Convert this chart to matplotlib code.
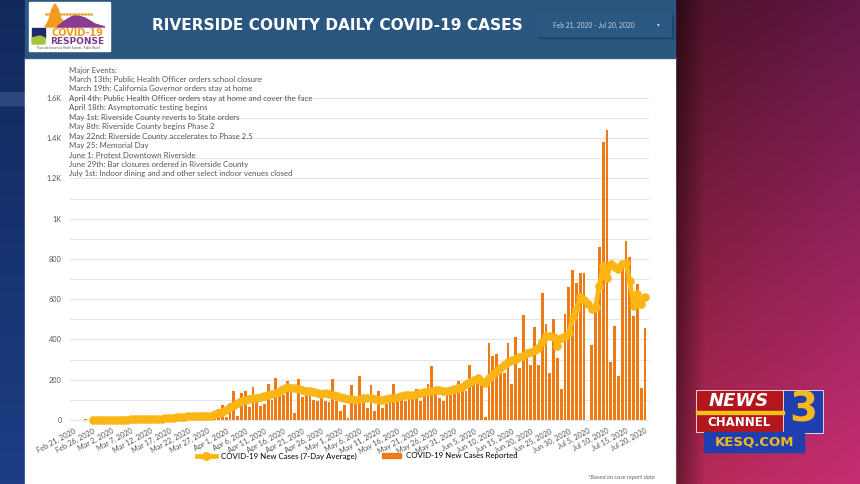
import numpy as np
import matplotlib.pyplot as plt
from matplotlib.patches import Rectangle, Polygon
from matplotlib.lines import Line2D

# daily new cases, Feb 21 .. Jul 20 2020 (151 days)
cases = [2, 0, 1, 3, 2, 1, 0, 2, 1, 3,
         1, 0, 2, 1, 0, 2, 3, 1, 4, 3,
         6, 5, 8, 7, 10, 12, 9, 15, 18, 12,
         22, 26, 20, 30, 24, 18, 30, 30, 55, 75,
         17, 85, 145, 22, 133, 142, 67, 162, 117, 70,
         80, 180, 97, 208, 117, 125, 192, 175, 33, 205,
         112, 133, 122, 97, 92, 150, 92, 87, 205, 92,
         45, 75, 12, 175, 88, 217, 92, 58, 172, 47,
         145, 58, 80, 92, 178, 100, 103, 92, 103, 108,
         153, 92, 133, 178, 270, 133, 108, 92, 125, 125,
         142, 195, 167, 142, 275, 183, 225, 185, 17, 383,
         320, 330, 233, 233, 383, 180, 410, 258, 520, 313,
         275, 463, 275, 633, 475, 235, 500, 310, 155, 525,
         660, 745, 680, 730, 730, 0, 375, 535, 860, 1383,
         1440, 290, 467, 220, 783, 890, 810, 517, 675, 160,
         458]

# 7-day average as drawn (starts Feb 26)
avg = [np.nan] * 5 + [
    1, 1, 1, 2, 2,
    2, 2, 2, 2, 2, 3, 3, 3, 3, 3,
    4, 5, 6, 7, 8, 10, 12, 14, 15, 16,
    18, 20, 22, 22, 20, 18, 22, 28, 35, 42,
    52, 65, 72, 85, 95, 100, 105, 108, 110, 112,
    118, 122, 128, 135, 145, 155, 162, 158, 160, 155,
    150, 145, 142, 138, 132, 130, 135, 130, 125, 120,
    115, 108, 105, 102, 100, 105, 108, 110, 108, 102,
    100, 100, 105, 108, 110, 112, 118, 122, 125, 125,
    128, 132, 138, 142, 145, 150, 150, 145, 142, 150,
    152, 158, 165, 180, 190, 200, 208, 195, 185, 210,
    228, 245, 258, 272, 288, 300, 305, 312, 320, 333,
    340, 348, 360, 390, 417, 415, 410, 370, 405, 415,
    430, 510, 550, 610, 595, 575, 550, 560, 667, 767,
    707, 775, 760, 750, 775, 780, 690, 567, 625, 575,
    610]

months = ['Feb', 'Mar', 'Apr', 'May', 'Jun', 'Jul']
month_days = [29, 31, 30, 31, 30, 31]

events = ['Major Events:',
          'March 13th: Public Health Officer orders school closure',
          'March 19th: California Governor orders stay at home',
          'April 4th: Public Health Officer orders stay at home and cover the face',
          'April 18th: Asymptomatic testing begins',
          'May 1st: Riverside County reverts to State orders',
          'May 8th: Riverside County begins Phase 2',
          'May 22nd: Riverside County accelerates to Phase 2.5',
          'May 25: Memorial Day',
          'June 1: Protest Downtown Riverside',
          'June 29th: Bar closures ordered in Riverside County',
          'July 1st: Indoor dining and and other select indoor venues closed']

# date labels
labels = []
m, d = 0, 21
for i in range(len(cases)):
    labels.append(f'{months[m]} {d}, 2020')
    d += 1
    if d > month_days[m]:
        d = 1
        m += 1

W, H = 860, 484
fig = plt.figure(figsize=(W / 100, H / 100), dpi=100)

# background in pixel coordinates
bg = fig.add_axes([0, 0, 1, 1])
bg.set_xlim(0, W)
bg.set_ylim(H, 0)
bg.axis('off')

yy = np.linspace(0, 1, 200)[:, None]
left = np.zeros((200, 60, 3))
left[..., 0] = 0.07 + 0.04 * yy
left[..., 1] = 0.16 + 0.08 * yy
left[..., 2] = 0.36 + 0.16 * yy
left[38:44] += 0.1
bg.imshow(np.clip(left, 0, 1), extent=(0, 26, H, 0), aspect='auto', zorder=0)

xx = np.linspace(0, 1, 120)[None, :]
right = np.zeros((200, 120, 3))
right[..., 0] = 0.30 + 0.40 * yy + 0.08 * xx
right[..., 1] = 0.07 + 0.09 * yy + 0.02 * xx
right[..., 2] = 0.15 + 0.17 * yy + 0.13 * xx
edge = np.clip(xx * 6, 0, 1)
right *= (0.55 + 0.45 * edge)[..., None]
bg.imshow(np.clip(right, 0, 1), extent=(674, W, H, 0), aspect='auto', zorder=0)

bg.add_patch(Rectangle((25, 57), 650, H - 57, color='white', zorder=1))
bg.add_patch(Rectangle((25, 0), 650, 57, color='#2a5680', zorder=1))
bg.plot([25, 675], [57.5, 57.5], color='#3d5f80', lw=1, zorder=2)
bg.text(337, 25, 'RIVERSIDE COUNTY DAILY COVID-19 CASES', color='white',
        fontsize=11.1, fontweight='bold', ha='center', va='center',
        family='DejaVu Sans', zorder=3)

# date range box
bg.add_patch(Rectangle((538, 15), 135, 23, color='#1d4366', zorder=2))
bg.add_patch(Rectangle((536, 13), 135, 23, color='#2b5882', zorder=2))
bg.text(594, 25, 'Feb 21, 2020 - Jul 20, 2020', color='#c5d2de', fontsize=4.8,
        ha='center', va='center', family='Lato', zorder=3)
bg.text(658, 25, '▾', color='#c5d2de', fontsize=4, ha='center', va='center', zorder=3)

# covid response logo
bg.add_patch(Rectangle((29, 2), 81, 49, color='white', zorder=2))
bg.add_patch(Polygon([[45, 27], [49, 20], [52, 9], [55, 4], [58, 9], [61, 19],
                      [68, 25], [78, 27]], color='#f39a1e', zorder=3))
bg.add_patch(Polygon([[57, 27], [66, 20], [75, 15], [85, 18], [95, 24], [105, 27]],
                     color='#8a3a90', zorder=3))
bg.plot(np.arange(46, 94, 3), [14] * 16, ls='none', marker='o', ms=1, color='#e8a33a', zorder=4)
bg.add_patch(Rectangle((32, 28), 13, 10, color='#1e2a6e', zorder=3))
bg.add_patch(Polygon([[32, 38], [40, 36], [45, 38], [45, 44], [32, 44]], color='#a6c43a', zorder=3))
bg.text(77, 33, 'COVID-19', color='#f39a1e', fontsize=7, fontweight='bold',
        ha='center', va='center', family='DejaVu Sans', zorder=4)
bg.text(77, 41.5, 'RESPONSE', color='#7a3a8c', fontsize=6.5, fontweight='bold',
        ha='center', va='center', family='DejaVu Sans', zorder=4)
bg.text(69, 48, 'Riverside University Health System - Public Health', color='#444',
        fontsize=1.8, ha='center', va='center', zorder=4)

# news channel 3 logo
bg.add_patch(Rectangle((696, 390), 88, 42, color='#b3161b', ec='#f0f0f0', lw=0.6, zorder=2))
bg.add_patch(Rectangle((696, 411), 88, 2.5, color='#f2c21b', zorder=3))
bg.add_patch(Rectangle((783, 390), 40, 43, color='#1f3fb0', ec='#f0f0f0', lw=0.6, zorder=2))
bg.add_patch(Rectangle((704, 432), 100, 20, color='#1f3fb0', zorder=2))
bg.text(739, 401, 'NEWS', color='white', fontsize=13, fontweight='bold', style='italic',
        ha='center', va='center', family='DejaVu Sans', zorder=4)
bg.text(739, 422, 'CHANNEL', color='white', fontsize=8.5, fontweight='bold',
        ha='center', va='center', family='DejaVu Sans', zorder=4)
bg.text(803, 411, '3', color='#f6b81c', fontsize=29, fontweight='bold',
        ha='center', va='center', family='DejaVu Sans', zorder=4)
bg.text(754, 442, 'KESQ.COM', color='#f2b91e', fontsize=9.5, fontweight='bold',
        ha='center', va='center', family='DejaVu Sans', zorder=4)

# chart
ax = fig.add_axes([70.2 / W, 1 - 422 / H, 578.6 / W, 324 / H])
ax.patch.set_alpha(0)
x = np.arange(len(cases))
ax.bar(x, cases, width=0.74, color='#ee7a16', zorder=2)
ax.plot(x, avg, color='#fbb515', lw=3.4, marker='o', ms=5.2, zorder=3, clip_on=False)
ax.set_xlim(-1, len(cases))
ax.set_ylim(-10, 1600)
ax.set_yticks(range(0, 1601, 200))
ax.set_yticklabels(['0', '200', '400', '600', '800', '1K', '1.2K', '1.4K', '1.6K'])
ax.set_yticks(range(100, 1600, 200), minor=True)
ax.grid(axis='y', which='both', color='#e4e4e4', lw=0.8, zorder=0)
ax.set_xticks(x[::5])
ax.set_xticklabels(labels[::5], rotation=28, ha='right', rotation_mode='anchor')
ax.tick_params(axis='both', which='both', length=0, labelsize=5.3, labelcolor='#555555')
ax.tick_params(axis='x', pad=4)
ax.tick_params(axis='y', pad=6)
for lab in ax.get_xticklabels() + ax.get_yticklabels():
    lab.set_family('Lato')
for s in ax.spines.values():
    s.set_visible(False)

for i, e in enumerate(events):
    fig.text(69 / W, 1 - (70 + i * 9.45) / H, e, fontsize=5.65, color='#555555',
             family='Lato', va='center', ha='left', zorder=5)

handles = [Line2D([0], [0], color='#fbb515', lw=3.4, marker='o', ms=5.5),
           Rectangle((0, 0), 1, 1, color='#ee7a16')]
fig.legend(handles, ['COVID-19 New Cases (7-Day Average)', 'COVID-19 New Cases Reported'],
           loc='center', bbox_to_anchor=(357 / W, 1 - 456 / H), ncol=2, frameon=False,
           prop={'family': 'Lato', 'size': 5.7}, handlelength=2.4, columnspacing=3.2,
           handletextpad=0.6)

fig.text(655 / W, 1 - 477 / H, '*Based on case report date', fontsize=4.3, color='#666666',
         style='italic', family='Lato', ha='right', va='center')

fig.savefig('out.png', dpi=100)
